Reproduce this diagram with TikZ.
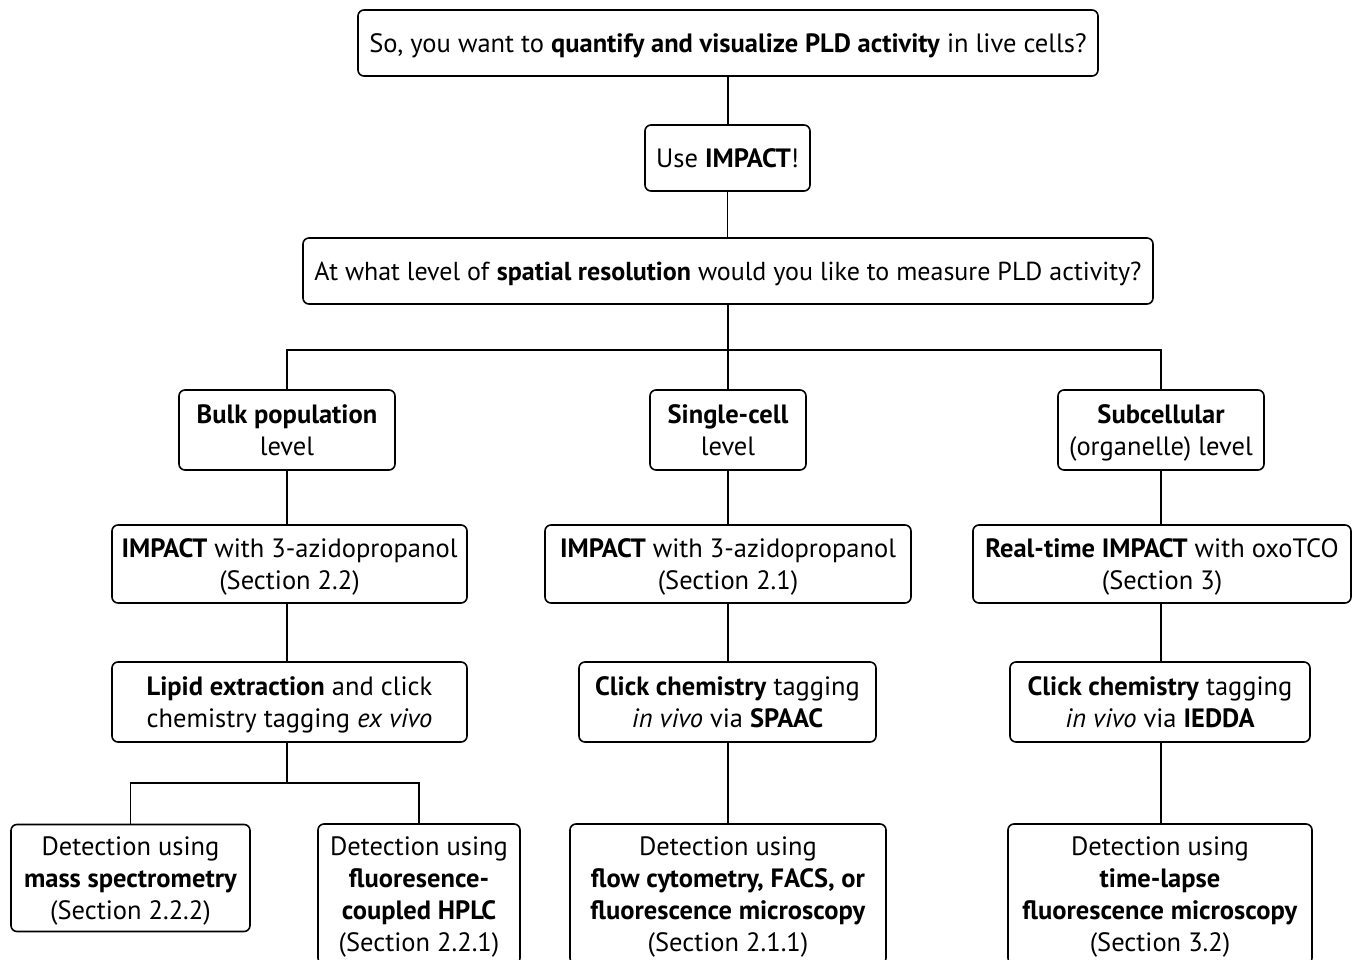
\documentclass[tikz,border=0pt]{standalone}
\usepackage{fontspec}
\setmainfont{PT Sans}
\begin{document}
\begin{tikzpicture}[x=1pt,y=-1pt,
  box/.style={draw, line width=1.6pt, rounded corners=6pt, align=center, inner sep=0pt,
    text depth=0pt, font=\fontsize{26.5}{32}\selectfont},
  conn/.style={line width=1.6pt}]
\useasboundingbox (0,0) rectangle (1358,960);
% row 0
\node[box, minimum width=740, minimum height=66] (top) at (728,43)
  {So, you want to \textbf{quantify and visualize PLD activity} in live cells?};
\node[box, minimum width=165, minimum height=66] (use) at (727.5,158) {Use \textbf{IMPACT}!};
\node[box, minimum width=850, minimum height=66, font=\fontsize{26}{32}\selectfont] (spat) at (728,271)
  {At what level of \textbf{spatial resolution} would you like to measure PLD activity?};
% row 1
\node[box, minimum width=216, minimum height=80] (bulk) at (287,430) {\textbf{Bulk population}\\level};
\node[box, minimum width=156, minimum height=80] (single) at (728,430) {\textbf{Single-cell}\\level};
\node[box, minimum width=206, minimum height=80] (sub) at (1161,430) {\textbf{Subcellular}\\(organelle) level};
% row 2
\node[box, minimum width=355, minimum height=78] (azl) at (289.5,564) {\textbf{IMPACT} with 3-azidopropanol\\(Section 2.2)};
\node[box, minimum width=366, minimum height=78] (azm) at (728,564) {\textbf{IMPACT} with 3-azidopropanol\\(Section 2.1)};
\node[box, minimum width=378, minimum height=78] (rt) at (1162,564) {\textbf{Real-time IMPACT} with oxoTCO\\(Section 3)};
% row 3
\node[box, minimum width=355, minimum height=80] (lipid) at (289.5,702) {\textbf{Lipid extraction} and click\\chemistry tagging \textit{ex vivo}};
\node[box, minimum width=297, minimum height=80] (spaac) at (727.5,702) {\textbf{Click chemistry} tagging\\\textit{in vivo} via \textbf{SPAAC}};
\node[box, minimum width=300, minimum height=80] (iedda) at (1160,702) {\textbf{Click chemistry} tagging\\\textit{in vivo} via \textbf{IEDDA}};
% row 4
\node[box, minimum width=239, minimum height=107] (ms) at (130.5,878) {Detection using\\\textbf{mass spectrometry}\\(Section 2.2.2)};
\node[box, minimum width=202, minimum height=140] (hplc) at (419,894) {Detection using\\\textbf{fluoresence-}\\\textbf{coupled HPLC}\\(Section 2.2.1)};
\node[box, minimum width=316, minimum height=140] (flow) at (728,894) {Detection using\\\textbf{flow cytometry, FACS, or}\\\textbf{fluorescence microscopy}\\(Section 2.1.1)};
\node[box, minimum width=304, minimum height=140] (tl) at (1160,894) {Detection using\\\textbf{time-lapse}\\\textbf{fluorescence microscopy}\\(Section 3.2)};
% connectors
\coordinate (bar) at (728,350);
\coordinate (split) at (287,783);
\draw[conn] (top.south) -- (top.south |- use.north);
\draw[conn] (use.south) -- (use.south |- spat.north);
\draw[conn] (spat.south) -- (single.north);
\draw[conn] (bulk.north) |- (bar) -| (sub.north);
\draw[conn] (bulk.south) -- (bulk.south |- azl.north);
\draw[conn] (bulk.south |- azl.south) -- (bulk.south |- lipid.north);
\draw[conn] (bulk.south |- lipid.south) -- (split);
\draw[conn] (ms.north) |- (split) -| (hplc.north);
\draw[conn] (single.south) -- (single.south |- azm.north);
\draw[conn] (single.south |- azm.south) -- (single.south |- spaac.north);
\draw[conn] (single.south |- spaac.south) -- (single.south |- flow.north);
\draw[conn] (sub.south) -- (sub.south |- rt.north);
\draw[conn] (sub.south |- rt.south) -- (sub.south |- iedda.north);
\draw[conn] (sub.south |- iedda.south) -- (sub.south |- tl.north);
\end{tikzpicture}
\end{document}
